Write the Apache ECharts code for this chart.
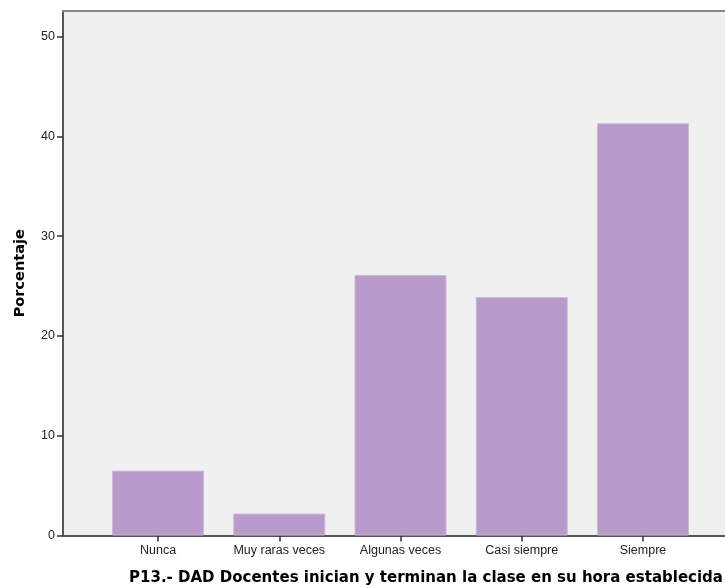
<!DOCTYPE html>
<html><head><meta charset="utf-8">
<script src="https://cdn.jsdelivr.net/npm/echarts@6/dist/echarts.min.js"></script>
<style>html,body{margin:0;padding:0;background:#fff}#c{width:725px;height:588px}</style>
</head><body><div id="c"></div>
<script>
const categories = ['Nunca', 'Muy raras veces', 'Algunas veces', 'Casi siempre', 'Siempre'];
const values = [6.5, 2.2, 26.1, 23.9, 41.3];
const yTicks = [0, 10, 20, 30, 40, 50];
const yName = 'Porcentaje';
const title = 'P13.- DAD Docentes inician y terminan la clase en su hora establecida';

const font = 'Liberation Sans, Arial, sans-serif';
const boldFont = 'DejaVu Sans, Verdana, sans-serif';
const yMax = 52.55;
const chart = echarts.init(document.getElementById('c'));
chart.setOption({
  animation: false,
  grid: [
    {left: 63, right: 0, top: 11, bottom: 52.5, show: true, backgroundColor: '#f0f0f0', borderWidth: 0},
    {left: 97.4, right: 21.4, top: 11, bottom: 52.5}
  ],
  xAxis: [
    {gridIndex: 0, type: 'category', data: [''], axisLine: {lineStyle: {color: '#555', width: 2}}, axisTick: {show: false}, axisLabel: {show: false}},
    {gridIndex: 0, type: 'category', position: 'top', data: [''], axisLine: {lineStyle: {color: '#888', width: 2}}, axisTick: {show: false}, axisLabel: {show: false}},
    {gridIndex: 1, type: 'category', data: categories, axisLine: {show: false},
     axisTick: {show: true, alignWithLabel: true, length: 6, lineStyle: {color: '#333', width: 1.5}},
     axisLabel: {color: '#222', fontFamily: font, fontSize: 12.5, margin: 9}}
  ],
  yAxis: [
    {gridIndex: 0, type: 'value', min: 0, max: yMax, interval: 10,
     name: yName, nameLocation: 'middle', nameGap: 35, nameRotate: 90,
     nameTextStyle: {fontFamily: boldFont, fontWeight: 'bold', fontSize: 14.5, color: '#000'},
     axisLine: {show: true, lineStyle: {color: '#555', width: 2}},
     axisTick: {show: true, length: 6, lineStyle: {color: '#333', width: 1.5}},
     axisLabel: {color: '#222', fontFamily: font, fontSize: 12.5, margin: 8, showMaxLabel: false,
       formatter: v => yTicks.includes(v) ? String(v) : ''},
     splitLine: {show: false}},
    {gridIndex: 1, type: 'value', min: 0, max: yMax, interval: 10, show: false, splitLine: {show: false}}
  ],
  series: [{
    type: 'bar', xAxisIndex: 2, yAxisIndex: 1, data: values, barWidth: 92,
    itemStyle: {color: '#b89bca', borderColor: '#cdb8da', borderWidth: 1}
  }],
  graphic: [{
    type: 'text', x: 426, y: 578,
    style: {text: title, fontFamily: boldFont, fontWeight: 'bold', fontSize: 15, fill: '#000',
      align: 'center', verticalAlign: 'middle'}
  }]
});
</script></body></html>
